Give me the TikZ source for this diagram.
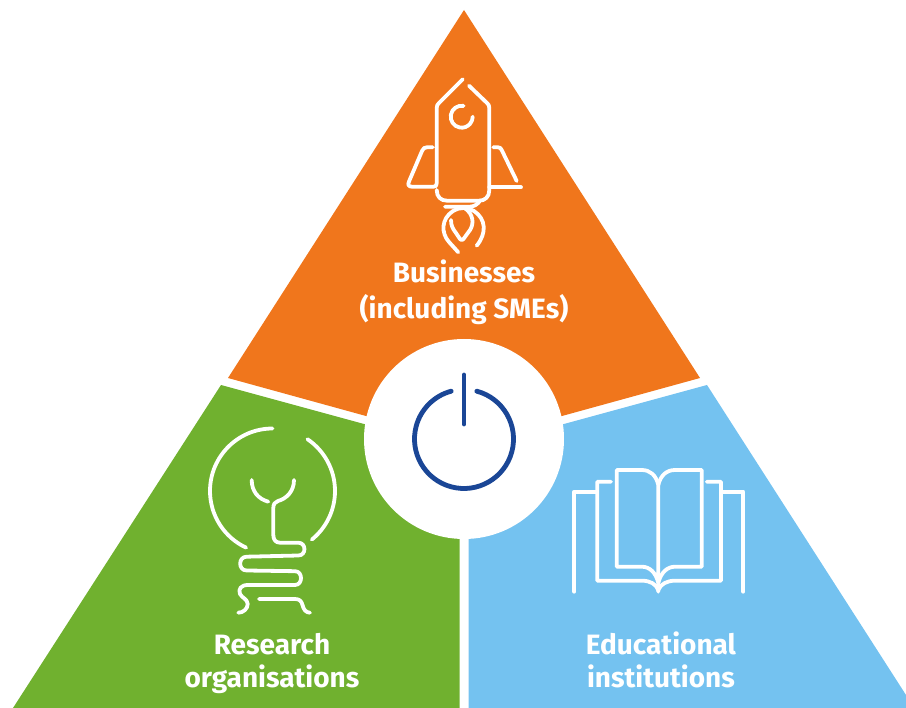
\documentclass[tikz,border=0pt]{standalone}
\usepackage{fontspec}
\setmainfont{Fira Sans}
\definecolor{segorange}{HTML}{F0761C}
\definecolor{seggreen}{HTML}{70B12F}
\definecolor{segblue}{HTML}{74C2F0}
\definecolor{powerblue}{HTML}{1A4696}
\begin{document}
\begin{tikzpicture}[x=1pt,y=-1pt,
    icon/.style={white,line width=3.8pt,line cap=round,line join=round},
    label/.style={white,align=center,font=\fontsize{28}{33}\selectfont\bfseries}]
    \useasboundingbox (0,0) rectangle (906,708);
    % the three segments
    \fill[segorange] (464,10) -- (700,378) -- (562,416) -- (464,439) -- (366,416) -- (228,378) -- cycle;
    \fill[seggreen] (221,385) -- (364,424) -- (459.5,439) -- (459.5,708) -- (13,708) -- cycle;
    \fill[segblue] (707,385) -- (564,424) -- (468.5,439) -- (468.5,708) -- (906,708) -- (906,695) -- cycle;
    % centre with power sign
    \coordinate (centre) at (464,439);
    \fill[white] (centre) circle [radius=100pt];
    \draw[powerblue,line width=4.8pt,line cap=round] (centre) ++(75:49.5pt) arc [start angle=75,end angle=-255,radius=49.5pt];
    \draw[powerblue,line width=4.8pt,line cap=round] (464,375) -- (464,424);
    % rocket
    \draw[icon] (462.7,79.3) -- (439,103) .. controls (437.5,104.5) and (436.7,105.5) .. (436.7,108)
        -- (436.7,183) .. controls (436.7,185.8) and (436,186.7) .. (433.5,186.7)
        -- (412,186.7) .. controls (408.5,186.7) and (407.5,184.5) .. (409,181.5)
        -- (422,151) .. controls (423.2,148.3) and (424.5,147.3) .. (427,147.3) -- (432.7,147.3);
    \draw[icon] (469,85.7) -- (487,103) .. controls (488.7,104.7) and (489.3,105.5) .. (489.3,108)
        -- (489.3,190) .. controls (489.3,197) and (485,200.7) .. (479,200.7)
        -- (447,200.7) .. controls (441,200.7) and (436.7,197) .. (436.7,190);
    \draw[icon] (489.3,187.3) -- (521,187.3);
    \draw[icon] (493.3,147.3) -- (498,147.3) .. controls (500,147.3) and (501,148.3) .. (501.7,150) -- (516.7,181);
    \coordinate (porthole) at (461.7,116.7);
    \draw[icon] (porthole) ++(80:11pt) arc [start angle=80,end angle=360,radius=11pt];
    \draw[icon] (445,206.7) -- (470,206.7) .. controls (474,206.7) and (478,204) .. (480,200.7);
    \draw[icon] (458.3,252.3) -- (449,242) .. controls (441,233) and (441,219) .. (453,211)
        .. controls (459,207) and (468,207) .. (474,211) .. controls (486,219) and (487,233) .. (476.7,245.7);
    \draw[icon] (451,220) .. controls (451,226) and (453,229) .. (456,233) -- (460,239)
        .. controls (461,240.5) and (462.5,240.5) .. (463.5,239) -- (470,230)
        .. controls (474.5,223) and (473,214) .. (465,208.3);
    % light bulb
    \coordinate (bulb) at (272.5,491);
    \draw[icon] (bulb) ++(90:62.5pt) arc [start angle=90,end angle=245,radius=62.5pt];
    \draw[icon] (bulb) ++(56:62.5pt) arc [start angle=56,end angle=-51,radius=62.5pt];
    \draw[icon] (251.7,480) .. controls (251.7,491) and (258,499) .. (268.3,501.7);
    \draw[icon] (294,480) .. controls (294,491) and (287,498.5) .. (278,501)
        .. controls (275,502) and (273.3,504) .. (273.3,508) -- (273.3,535)
        .. controls (273.3,540) and (276,542.7) .. (280,542.7) -- (298.3,542.7)
        .. controls (306.5,542.7) and (306.5,555.5) .. (298.3,555.5) -- (246.7,556.7)
        .. controls (238,556.7) and (238,570.5) .. (246.7,570.5) -- (295,571.2)
        .. controls (303,571.2) and (303,585) .. (295,585) -- (248,585)
        .. controls (241,585) and (238,589) .. (240,594)
        .. controls (242,598) and (247.5,599) .. (247.7,604)
        .. controls (247.7,609) and (243,612.7) .. (238.3,612.7);
    \draw[icon] (259,599) -- (295,599) .. controls (300,599) and (301.5,601.5) .. (302.5,605)
        .. controls (303.5,609.5) and (306,612.7) .. (310,612.7);
    % book
    \draw[icon] (574.3,591.7) -- (574.3,491.7) -- (596.7,491.7);
    \draw[icon] (611,481.7) -- (597.3,481.7) -- (597.3,580.7) -- (642,580.7)
        .. controls (650,580.7) and (656,584) .. (658.3,590);
    \draw[icon] (743.3,591.7) -- (743.3,491.7) -- (721.7,491.7);
    \draw[icon] (706.7,481.7) -- (721,481.7) -- (721,580.7) -- (675,580.7)
        .. controls (667,580.7) and (660.6,584) .. (658.3,590);
    \draw[icon] (658.3,591.7) -- (658.3,485) .. controls (656,475) and (650,470) .. (641.7,470)
        -- (616.7,470) -- (616.7,566.7) -- (641.7,566.7) .. controls (650,566.7) and (656,573) .. (658.3,583);
    \draw[icon] (658.3,485) .. controls (660.6,475) and (667,470) .. (675,470)
        -- (701.7,470) -- (701.7,566.7) -- (675,566.7) .. controls (667,566.7) and (660.6,573) .. (658.3,583);
    % labels
    \node[label] (businesses) at (464,292) {Businesses\\[3pt](including SMEs)};
    \node[label] (research) at (272,663.5) {Research\\organisations};
    \node[label] (educational) at (661,660) {Educational\\institutions};
\end{tikzpicture}
\end{document}
